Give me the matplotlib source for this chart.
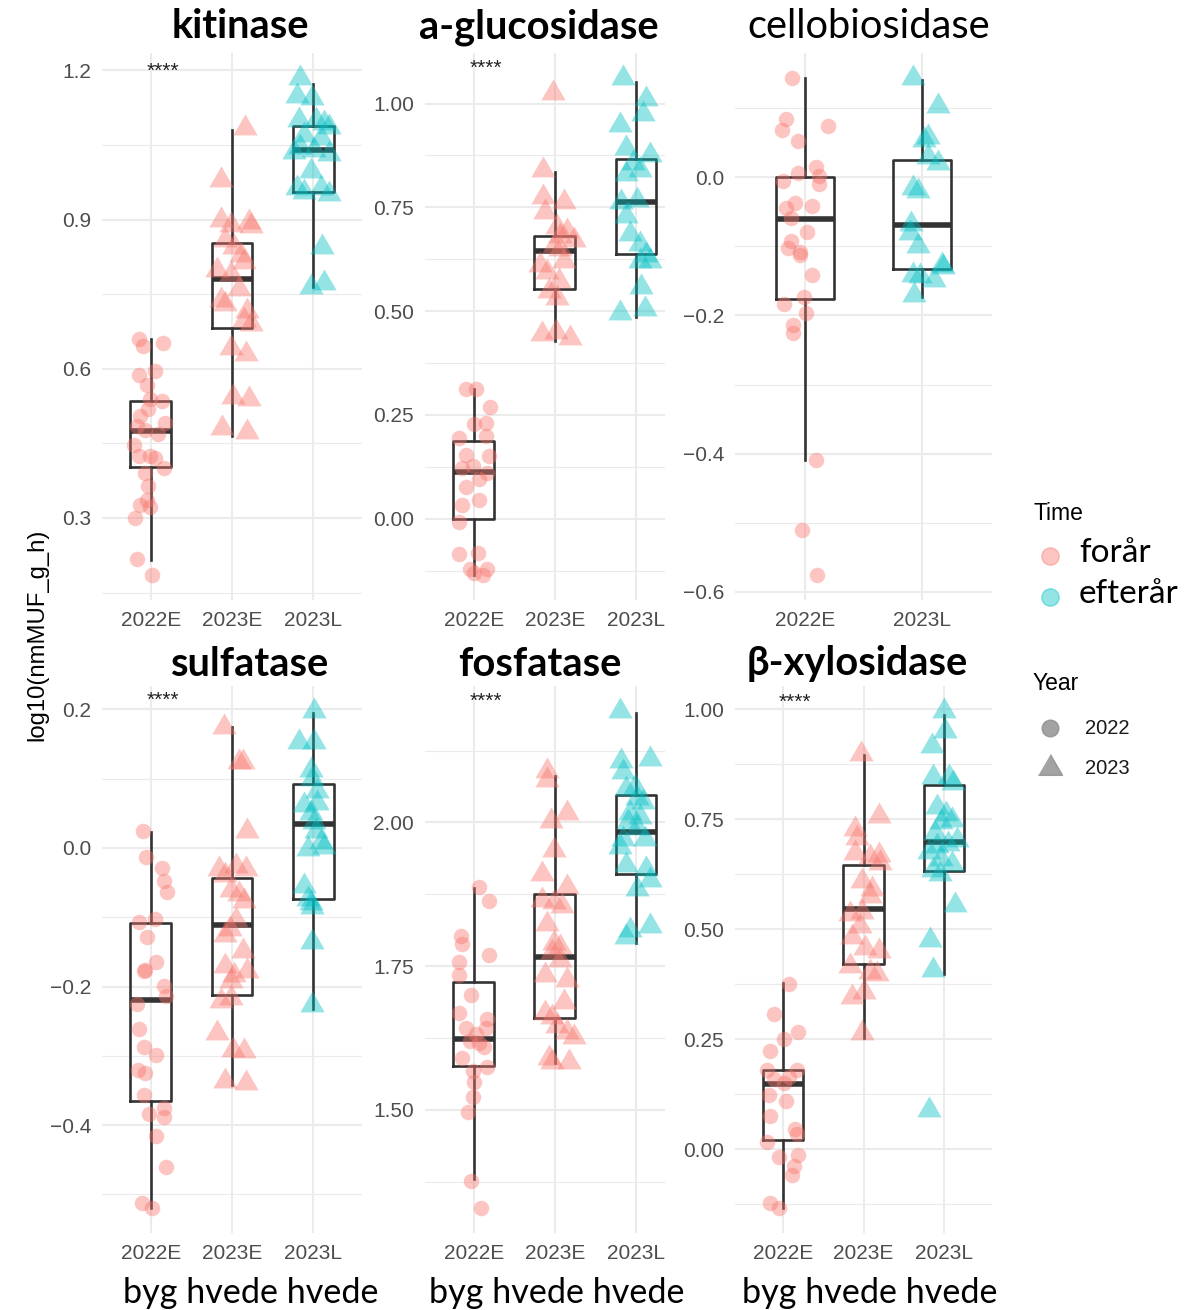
import matplotlib
matplotlib.use("Agg")
import matplotlib.pyplot as plt
from matplotlib.lines import Line2D
import numpy as np

W, H = 1186, 1310

# groups on the x axis
cats3 = ["2022E", "2023E", "2023L"]
cats2 = ["2022E", "2023L"]
time_of = {"2022E": "forår", "2023E": "forår", "2023L": "efterår"}
year_of = {"2022E": 2022, "2023E": 2023, "2023L": 2023}
time_colors = {"forår": "#F8766D", "efterår": "#00BFC4"}

# jittered observations: (x jitter, log10 value)
kit_22E = [(-0.15, 0.66), (-0.09, 0.645), (0.15, 0.652), (-0.14, 0.587), (0.05, 0.595), (-0.05, 0.567),
           (-0.01, 0.54), (0.14, 0.536), (-0.13, 0.506), (-0.03, 0.52), (0.18, 0.49), (-0.17, 0.484),
           (-0.07, 0.476), (0.09, 0.469), (-0.15, 0.424), (-0.01, 0.424), (0.05, 0.42), (0.16, 0.40),
           (-0.07, 0.39), (-0.03, 0.364), (-0.05, 0.337), (-0.13, 0.326), (-0.01, 0.322), (-0.19, 0.30),
           (-0.17, 0.218), (0.02, 0.185), (-0.21, 0.446)]
kit_23E = [(0.16, 1.084), (-0.13, 0.98), (-0.13, 0.90), (-0.01, 0.889), (0.21, 0.896), (0.23, 0.887),
           (-0.09, 0.859), (0.03, 0.844), (0.11, 0.829), (0.15, 0.814), (-0.18, 0.799), (-0.01, 0.791),
           (0.09, 0.761), (-0.14, 0.739), (-0.09, 0.731), (0.19, 0.716), (0.15, 0.698), (0.23, 0.69),
           (-0.01, 0.641), (0.17, 0.63), (0.01, 0.544), (0.21, 0.54), (-0.12, 0.48), (0.19, 0.472)]
kit_23L = [(-0.16, 1.185), (-0.2, 1.148), (-0.01, 1.144), (-0.18, 1.10), (0.03, 1.10), (0.13, 1.094),
           (0.19, 1.087), (-0.12, 1.07), (0.09, 1.065), (-0.16, 1.046), (0.01, 1.04), (0.19, 1.031),
           (-0.03, 0.998), (0.09, 0.964), (-0.2, 0.964), (-0.12, 0.956), (0.19, 0.952), (0.11, 0.844),
           (-0.03, 0.765), (0.13, 0.772), (-0.24, 1.035)]

glu_22E = [(-0.09, 0.313), (0.03, 0.313), (0.2, 0.268), (0.01, 0.227), (0.15, 0.231), (-0.18, 0.195),
           (0.15, 0.2), (-0.1, 0.154), (0.19, 0.15), (-0.14, 0.122), (-0.01, 0.127), (0.17, 0.109),
           (0.07, 0.095), (-0.1, 0.077), (0.07, 0.045), (-0.14, 0.032), (-0.18, -0.009), (-0.18, -0.086),
           (0.05, -0.082), (-0.05, -0.122), (0.17, -0.122), (0.01, -0.131), (0.11, -0.136)]
glu_23E = [(-0.02, 1.025), (-0.14, 0.839), (-0.14, 0.776), (0.11, 0.762), (-0.12, 0.74), (0.03, 0.703),
           (0.15, 0.694), (0.07, 0.68), (0.24, 0.671), (-0.01, 0.658), (-0.18, 0.612), (0.11, 0.622),
           (-0.1, 0.594), (0.05, 0.572), (-0.07, 0.549), (0.03, 0.531), (-0.16, 0.445), (0.01, 0.449),
           (0.19, 0.436), (0.07, 0.65)]
glu_23L = [(-0.16, 1.062), (0.13, 1.012), (0.09, 0.975), (-0.2, 0.948), (-0.12, 0.894), (0.17, 0.876),
           (-0.03, 0.858), (-0.12, 0.83), (0.05, 0.84), (0.01, 0.767), (-0.18, 0.762), (-0.12, 0.73),
           (-0.07, 0.685), (0.05, 0.662), (0.13, 0.635), (0.05, 0.622), (0.17, 0.622), (0.07, 0.558),
           (-0.2, 0.495), (0.11, 0.504)]

cel_22E = [(-0.11, 0.144), (-0.16, 0.085), (-0.2, 0.068), (0.2, 0.074), (-0.06, 0.053), (0.09, 0.015),
           (-0.06, 0.006), (0.12, 0.002), (-0.19, -0.005), (0.12, -0.009), (-0.09, -0.037), (0.06, -0.042),
           (-0.16, -0.045), (-0.12, -0.059), (0.02, -0.079), (-0.12, -0.092), (-0.15, -0.102), (-0.04, -0.108),
           (-0.04, -0.113), (0.06, -0.141), (-0.01, -0.173), (-0.18, -0.184), (0.01, -0.196), (-0.1, -0.214),
           (-0.1, -0.226), (0.09, -0.409), (-0.03, -0.511), (0.1, -0.576)]
cel_23L = [(-0.08, 0.144), (0.14, 0.103), (0.05, 0.059), (0.02, 0.054), (0.05, 0.029), (0.14, 0.021),
           (-0.08, -0.015), (-0.03, -0.02), (-0.09, -0.068), (-0.1, -0.08), (-0.03, -0.1), (0.17, -0.127),
           (-0.08, -0.141), (-0.02, -0.143), (0.1, -0.149), (-0.07, -0.171), (0.18, -0.13)]

sul_22E = [(-0.1, 0.024), (-0.06, -0.013), (0.14, -0.029), (0.16, -0.047), (0.2, -0.063), (-0.15, -0.107),
           (0.05, -0.102), (-0.05, -0.128), (0.07, -0.165), (-0.08, -0.178), (-0.07, -0.176), (0.16, -0.199),
           (0.19, -0.213), (-0.17, -0.225), (-0.14, -0.261), (-0.08, -0.287), (0.07, -0.299), (-0.16, -0.32),
           (-0.07, -0.325), (-0.08, -0.357), (-0.02, -0.384), (0.16, -0.376), (0.16, -0.389), (0.07, -0.416),
           (0.19, -0.461), (-0.11, -0.512), (0.02, -0.52)]
sul_23E = [(-0.1, 0.174), (0.09, 0.124), (0.14, 0.124), (0.19, 0.025), (-0.16, -0.031), (0.05, -0.026),
           (0.17, -0.031), (-0.09, -0.039), (-0.01, -0.061), (0.09, -0.066), (0.15, -0.077), (0.05, -0.104),
           (-0.03, -0.117), (-0.09, -0.125), (0.14, -0.149), (0.19, -0.178), (-0.09, -0.17), (0.03, -0.184),
           (-0.01, -0.192), (-0.14, -0.221), (-0.01, -0.216), (-0.18, -0.267), (0.01, -0.291), (0.15, -0.293),
           (-0.09, -0.336), (0.17, -0.339)]
sul_23L = [(0.01, 0.198), (-0.18, 0.153), (0.01, 0.153), (-0.03, 0.113), (-0.01, 0.1), (0.05, 0.083),
           (-0.12, 0.062), (0.05, 0.065), (-0.03, 0.051), (0.01, 0.038), (0.03, 0.025), (0.09, 0.009),
           (-0.07, -0.002), (0.13, 0.001), (-0.12, -0.055), (-0.07, -0.074), (-0.03, -0.08), (-0.01, -0.085),
           (-0.01, -0.136), (-0.01, -0.226)]

fos_22E = [(0.07, 1.887), (0.19, 1.863), (-0.16, 1.803), (-0.14, 1.789), (0.19, 1.77), (-0.18, 1.758),
           (-0.18, 1.735), (-0.03, 1.7), (-0.18, 1.668), (0.17, 1.658), (-0.1, 1.642), (0.15, 1.642),
           (0.03, 1.632), (-0.05, 1.619), (0.07, 1.616), (0.13, 1.61), (-0.14, 1.59), (0.17, 1.574),
           (-0.01, 1.568), (0.01, 1.548), (-0.01, 1.523), (-0.07, 1.497), (-0.03, 1.377), (0.09, 1.329)]
fos_23E = [(-0.1, 2.09), (-0.1, 2.074), (-0.05, 2.003), (0.15, 2.016), (-0.01, 1.952), (-0.16, 1.91),
           (0.15, 1.887), (-0.16, 1.865), (-0.01, 1.861), (0.09, 1.855), (-0.1, 1.823), (-0.01, 1.79),
           (0.07, 1.784), (-0.03, 1.774), (0.07, 1.761), (-0.12, 1.735), (0.15, 1.726), (0.11, 1.687),
           (-0.12, 1.668), (-0.03, 1.661), (0.03, 1.645), (0.15, 1.635), (0.24, 1.626), (-0.07, 1.59),
           (-0.03, 1.584), (0.17, 1.584)]
fos_23L = [(-0.2, 2.194), (0.17, 2.11), (-0.18, 2.106), (-0.16, 2.087), (-0.12, 2.058), (-0.01, 2.061),
           (0.01, 2.042), (0.09, 2.035), (-0.07, 2.016), (0.05, 2.01), (-0.1, 2.0), (0.01, 1.99),
           (-0.16, 1.971), (0.11, 1.971), (-0.2, 1.958), (-0.12, 1.926), (0.13, 1.919), (0.17, 1.9),
           (0.01, 1.884), (-0.07, 1.813), (0.17, 1.819), (-0.12, 1.8)]

xyl_22E = [(0.07, 0.376), (-0.12, 0.308), (0.19, 0.266), (0.01, 0.25), (-0.16, 0.224), (-0.2, 0.181),
           (0.17, 0.181), (-0.12, 0.16), (0.01, 0.151), (0.07, 0.164), (-0.18, 0.122), (0.03, 0.109),
           (-0.16, 0.076), (0.15, 0.046), (0.17, 0.034), (-0.2, 0.017), (-0.05, -0.017), (0.19, -0.013),
           (0.13, -0.038), (0.11, -0.059), (-0.16, -0.122), (-0.05, -0.134)]
xyl_23E = [(-0.03, 0.899), (0.19, 0.756), (-0.1, 0.727), (-0.08, 0.706), (-0.1, 0.672), (0.08, 0.664),
           (0.19, 0.668), (0.21, 0.651), (-0.02, 0.609), (0.1, 0.592), (0.08, 0.576), (-0.17, 0.534),
           (-0.02, 0.538), (-0.14, 0.483), (-0.04, 0.508), (0.02, 0.458), (0.19, 0.45), (-0.17, 0.416),
           (0.08, 0.403), (0.17, 0.399), (0.0, 0.357), (-0.14, 0.345), (-0.02, 0.265)]
xyl_23L = [(0.0, 0.996), (0.01, 0.95), (-0.15, 0.916), (-0.13, 0.845), (0.07, 0.845), (0.12, 0.832),
           (-0.09, 0.777), (0.03, 0.761), (0.1, 0.748), (-0.03, 0.744), (-0.11, 0.718), (0.16, 0.702),
           (0.05, 0.693), (-0.09, 0.689), (-0.19, 0.676), (-0.03, 0.66), (0.1, 0.647), (-0.13, 0.634),
           (-0.05, 0.626), (0.14, 0.555), (-0.17, 0.475), (-0.13, 0.408), (-0.18, 0.088)]

# box summaries per group: (lower whisker, q1, median, q3, upper whisker)
kit_box = [(0.215, 0.403, 0.475, 0.535, 0.66), (0.464, 0.682, 0.781, 0.853, 1.08), (0.765, 0.956, 1.04, 1.089, 1.172)]
glu_box = [(-0.136, 0.0, 0.113, 0.186, 0.313), (0.429, 0.553, 0.646, 0.682, 0.835), (0.485, 0.638, 0.762, 0.867, 1.053)]
cel_box = [(-0.41, -0.176, -0.061, 0.0, 0.144), (-0.173, -0.133, -0.069, 0.025, 0.141)]
sul_box = [(-0.52, -0.365, -0.22, -0.108, 0.023), (-0.342, -0.212, -0.111, -0.044, 0.174), (-0.232, -0.074, 0.034, 0.093, 0.195)]
fos_box = [(1.379, 1.577, 1.623, 1.723, 1.886), (1.581, 1.66, 1.766, 1.875, 2.081), (1.79, 1.91, 1.983, 2.047, 2.19)]
xyl_box = [(-0.134, 0.021, 0.147, 0.181, 0.378), (0.252, 0.42, 0.546, 0.645, 0.895), (0.399, 0.633, 0.697, 0.828, 0.987)]

# y ticks and their labels
kit_ticks, kit_labels = [0.3, 0.6, 0.9, 1.2], ["0.3", "0.6", "0.9", "1.2"]
glu_ticks, glu_labels = [0.0, 0.25, 0.5, 0.75, 1.0], ["0.00", "0.25", "0.50", "0.75", "1.00"]
cel_ticks, cel_labels = [-0.6, -0.4, -0.2, 0.0], ["\u22120.6", "\u22120.4", "\u22120.2", "0.0"]
sul_ticks, sul_labels = [-0.4, -0.2, 0.0, 0.2], ["\u22120.4", "\u22120.2", "0.0", "0.2"]
fos_ticks, fos_labels = [1.5, 1.75, 2.0], ["1.50", "1.75", "2.00"]
xyl_ticks, xyl_labels = [0.0, 0.25, 0.5, 0.75, 1.0], ["0.00", "0.25", "0.50", "0.75", "1.00"]

# height of the "****" label in each panel (None = no label)
sig_y = [1.203, 1.092, None, 0.217, 2.216, 1.021]

titles = ["kitinase", "a-glucosidase", "cellobiosidase", "sulfatase", "fosfatase", "\u03b2-xylosidase"]
title_bold = [True, True, False, True, True, True]

TICK_FONT = "Liberation Sans"
SLIDE_FONT = "Lato"
GRID = "#EBEBEB"
BOXC = "#333333"


def px_rect(x0, y0, x1, y1):
    return [x0 / W, 1 - y1 / H, (x1 - x0) / W, (y1 - y0) / H]


TRI = [(-0.58, -0.33), (0.58, -0.33), (0.0, 0.67)]


def draw_panel(ax, cats, groups, boxes, ticks, labels, xmax, sig):
    n = len(cats)
    allv = []
    for i, (cat, pts, b) in enumerate(zip(cats, groups, boxes)):
        pos = i + 1
        st = dict(whislo=b[0], q1=b[1], med=b[2], q3=b[3], whishi=b[4], fliers=[])
        ax.bxp([st], positions=[pos], widths=0.5, showcaps=False, showfliers=False,
               boxprops=dict(color=BOXC, lw=1.9), whiskerprops=dict(color=BOXC, lw=1.9),
               medianprops=dict(color=BOXC, lw=4.0, solid_capstyle="butt"))
        dx = np.array([p[0] for p in pts])
        yv = np.array([p[1] for p in pts])
        allv.extend(yv)
        allv.extend([b[0], b[4]])
        col = time_colors[time_of[cat]]
        if year_of[cat] == 2022:
            ax.scatter(pos + dx, yv, s=125, marker="o", color=col, alpha=0.42, lw=0, zorder=3)
        else:
            ax.scatter(pos + dx, yv, s=410, marker=TRI, color=col, alpha=0.42, lw=0, zorder=3)
    lo, hi = min(allv), max(allv)
    pad = 0.05 * (hi - lo)
    ax.set_ylim(lo - pad, hi + pad)
    ax.set_xlim(0.4, xmax)

    step = ticks[1] - ticks[0]
    minor = [t + step / 2 for t in [ticks[0] - step] + ticks]
    minor = [m for m in minor if lo - pad <= m <= hi + pad]
    ax.set_yticks(ticks)
    ax.set_yticklabels(labels)
    ax.set_yticks(minor, minor=True)
    ax.set_xticks(range(1, n + 1))
    ax.set_xticklabels(cats)
    ax.grid(which="major", color=GRID, lw=1.5)
    ax.grid(which="minor", axis="y", color=GRID, lw=0.8)
    ax.set_axisbelow(True)
    for s in ax.spines.values():
        s.set_visible(False)
    ax.tick_params(which="both", length=0)
    ax.tick_params(axis="y", pad=8)
    ax.tick_params(axis="x", pad=8)
    for lab in ax.get_xticklabels() + ax.get_yticklabels():
        lab.set_fontfamily(TICK_FONT)
        lab.set_fontsize(15)
        lab.set_color("#4D4D4D")
    if sig is not None:
        ax.annotate("****", (1.15, sig), xytext=(0, -2), textcoords="offset points",
                    ha="center", va="center", fontsize=15, family=TICK_FONT, color="#222222")


fig = plt.figure(figsize=(W / 100, H / 100), dpi=100)

panels = [
    (px_rect(102, 53, 362, 600), cats3, [kit_22E, kit_23E, kit_23L], kit_box, kit_ticks, kit_labels, 3.6),
    (px_rect(425, 53, 665, 600), cats3, [glu_22E, glu_23E, glu_23L], glu_box, glu_ticks, glu_labels, 3.36),
    (px_rect(735, 53, 992, 600), cats2, [cel_22E, cel_23L], cel_box, cel_ticks, cel_labels, 2.6),
    (px_rect(102, 686, 362, 1233), cats3, [sul_22E, sul_23E, sul_23L], sul_box, sul_ticks, sul_labels, 3.6),
    (px_rect(425, 686, 665, 1233), cats3, [fos_22E, fos_23E, fos_23L], fos_box, fos_ticks, fos_labels, 3.36),
    (px_rect(735, 686, 992, 1233), cats3, [xyl_22E, xyl_23E, xyl_23L], xyl_box, xyl_ticks, xyl_labels, 3.6),
]

for k, (rect, cats, groups, boxes, ticks, labels, xmax) in enumerate(panels):
    ax = fig.add_axes(rect)
    draw_panel(ax, cats, groups, boxes, ticks, labels, xmax, sig_y[k])

# panel titles and the crop labels under each column
title_pos = [(240, 27), (539, 27), (869, 27), (250, 664), (540, 664), (857, 664)]
for t, bold, (x, y) in zip(titles, title_bold, title_pos):
    fig.text(x / W, 1 - y / H, t, ha="center", va="center", family=SLIDE_FONT,
             fontsize=28.7, fontweight="bold" if bold else "normal")
for x in [251, 557, 870]:
    fig.text(x / W, 1 - 1293 / H, "byg hvede hvede", ha="center", va="center",
             family=SLIDE_FONT, fontsize=24.6)

fig.text(37 / W, 1 - 635 / H, "log10(nmMUF_g_h)", rotation=90, ha="center", va="center",
         family=TICK_FONT, fontsize=17.2)

# legends
fig.text(1033 / W, 1 - 513 / H, "Time", ha="left", va="center", family=TICK_FONT, fontsize=16.5)
for lab, yy in [("forår", 556), ("efterår", 597)]:
    fig.add_artist(Line2D([1050 / W], [1 - yy / H], marker="o", markersize=12.5, lw=0,
                          color=time_colors[lab], alpha=0.42, transform=fig.transFigure))
    fig.text(1079 / W, 1 - (yy - 3) / H, lab, ha="left", va="center", family=SLIDE_FONT, fontsize=24)

fig.text(1033 / W, 1 - 683 / H, "Year", ha="left", va="center", family=TICK_FONT, fontsize=16.5)
for lab, mk, ms, yy in [("2022", "o", 12, 728), ("2023", TRI, 20, 768)]:
    fig.add_artist(Line2D([1050 / W], [1 - yy / H], marker=mk, markersize=ms, lw=0,
                          color="#8C8C8C", alpha=0.8, transform=fig.transFigure))
    fig.text(1085 / W, 1 - yy / H, lab, ha="left", va="center", family=TICK_FONT,
             fontsize=14.5, color="#1A1A1A")

fig.savefig("out.png", dpi=100)
